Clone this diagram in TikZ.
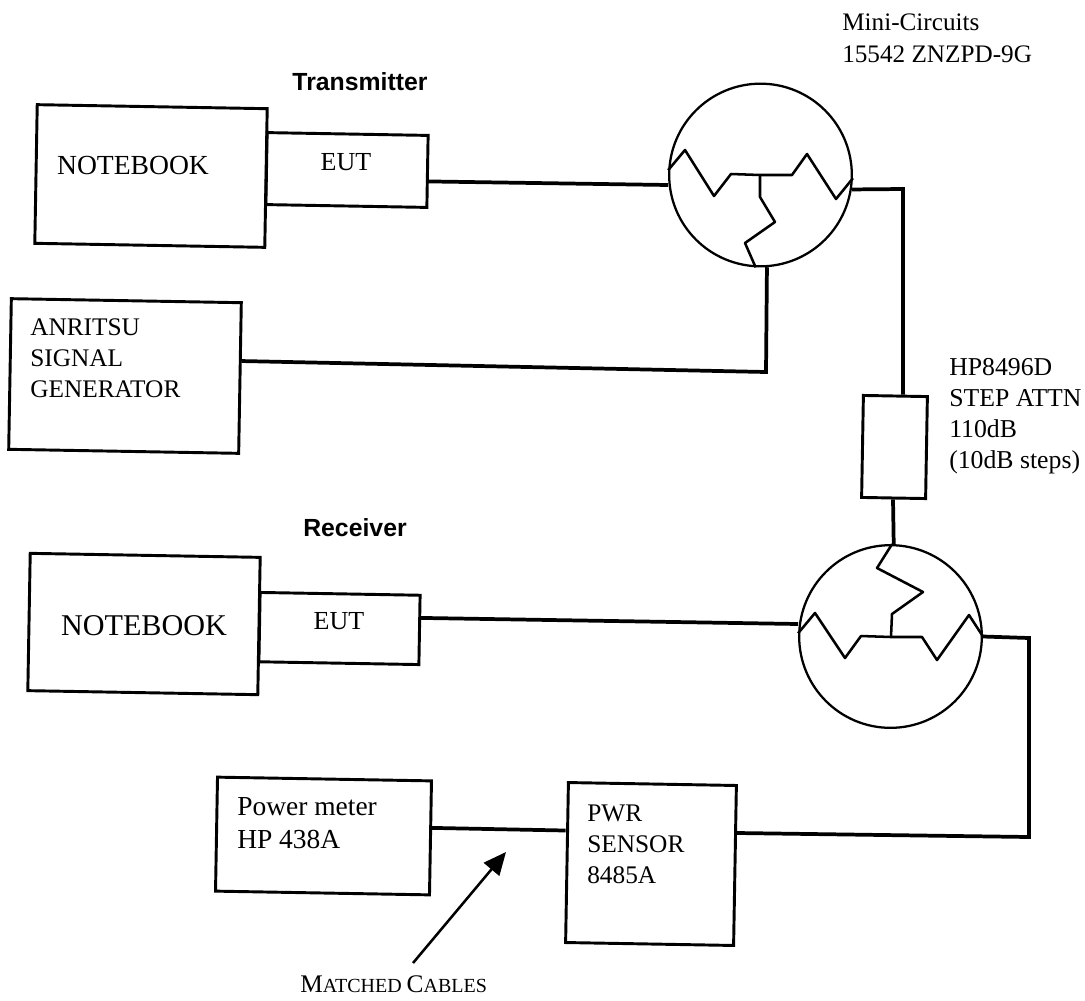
\documentclass[tikz,border=0pt]{standalone}
\usepackage{fontspec}
\setmainfont{Liberation Serif}
\setsansfont{Liberation Sans}
\usetikzlibrary{arrows.meta,calc}
\tikzset{
  box/.style={draw,line width=2.2pt,rotate=-1,inner sep=0pt},
  wire/.style={line width=2.8pt,line join=miter},
  thinwire/.style={line width=1.9pt,line join=round},
  splitter/.style={circle,draw,line width=1.7pt,inner sep=0pt,minimum size=137pt},
  lbl/.style={inner sep=0pt,align=left,anchor=north west,font=\fontsize{19}{23.25}\selectfont},
  head/.style={inner sep=0pt,font=\sffamily\bfseries\fontsize{18.6}{20}\selectfont}
}
\begin{document}
\begin{tikzpicture}[x=0.75pt,y=-0.75pt]
\useasboundingbox (0,0) rectangle (1085,1000);
% boxes
\node[box,minimum width=172.5pt,minimum height=104pt] (nb1) at (151,176) {};
\node[box,minimum width=120.75pt,minimum height=54pt] (eut1) at (347,170) {};
\node[box,minimum width=172.5pt,minimum height=113pt] (sg) at (125,376) {};
\node[box,minimum width=172.5pt,minimum height=103pt] (nb2) at (144,624) {};
\node[box,minimum width=120pt,minimum height=52pt] (eut2) at (339.5,628.5) {};
\node[box,minimum width=160.5pt,minimum height=85.5pt] (pm) at (323.5,836) {};
\node[box,minimum width=126pt,minimum height=120pt] (ps) at (651,864) {};
\node[box,minimum width=48pt,minimum height=76.5pt] (att) at (894.5,447) {};
% splitters
\node[splitter] (c1) at (760.5,175) {};
\node[splitter] (c2) at (890.5,636.5) {};
% resistors
\coordinate (j1) at (760,175);
\coordinate (j2) at (891,637);
\draw[thinwire] (c1.177) -- (685,150) -- (714,196) -- (731,174) -- (j1) -- (792,175) -- (807,154) -- (836,199) -- (c1.-2);
\draw[thinwire] (j1) -- (760,197) -- (775,222) -- (745,243) -- (c1.-93);
\draw[thinwire] (c2.178) -- (815,613) -- (845,658) -- (861,636) -- (j2) -- (922,637) -- (937,660) -- (969,615) -- (c2.0);
\draw[thinwire] (j2) -- (892,614) -- (923,592) -- (877,568) -- (c2.89);
% connectors
\draw[wire] ($(eut1.east)+(0,10)$) -- (c1.west |- 0,185);
\draw[wire] (c1.-9) -- (903,189) -- (att.north -| 903,0);
\draw[wire] (c1.-86) -- (766,372) -- ($(sg.east)+(0,-17)$);
\draw[wire] (att.south -| 893,0) -- (c2.88);
\draw[wire] ($(eut2.east)+(0,-12)$) -- (c2.west |- 0,624);
\draw[wire] (c2.0) -- (1029,638) -- (1029,837) -- ($(ps.east)+(0,-32.5)$);
\draw[wire] ($(pm.east)+(0,-10)$) -- ($(ps.west)+(0,-32)$);
\coordinate (arrowtail) at (413,963);
\coordinate (arrowtip) at (506,852);
\draw[line width=1.9pt,-{Triangle[length=17pt,width=15pt]}] (arrowtail) -- (arrowtip);
% labels
\node[head] (tx) at (360,82) {Transmitter};
\node[head] (rx) at (355,528) {Receiver};
\node[inner sep=0pt,font=\fontsize{20.7}{24}\selectfont] (t1) at (133,165) {NOTEBOOK};
\node[inner sep=0pt,font=\fontsize{22.6}{24}\selectfont] (t2) at (144,626) {NOTEBOOK};
\node[inner sep=0pt,font=\fontsize{19.5}{24}\selectfont] (t3) at (346,162) {EUT};
\node[inner sep=0pt,font=\fontsize{19.5}{24}\selectfont] (t4) at (339,621) {EUT};
\node[lbl] (t5) at (30,318) {ANRITSU\\SIGNAL\\GENERATOR};
\node[lbl,font=\fontsize{20.6}{24.75}\selectfont] (t6) at (237,797) {Power meter\\HP 438A};
\node[lbl] (t7) at (587,805) {PWR\\SENSOR\\8485A};
\node[lbl,font=\fontsize{19.3}{23.25}\selectfont] (t8) at (949,358) {HP8496D\\STEP ATTN\\110dB\\(10dB steps)};
\node[lbl,font=\fontsize{18.9}{24}\selectfont] (t9) at (842,14) {Mini-Circuits\\15542 ZNZPD-9G};
\node[inner sep=0pt,anchor=base west] (t10) at (300,992) {\fontsize{19}{20}\selectfont M\fontsize{15}{20}\selectfont ATCHED\ \fontsize{19}{20}\selectfont C\fontsize{15}{20}\selectfont ABLES};
\end{tikzpicture}
\end{document}
